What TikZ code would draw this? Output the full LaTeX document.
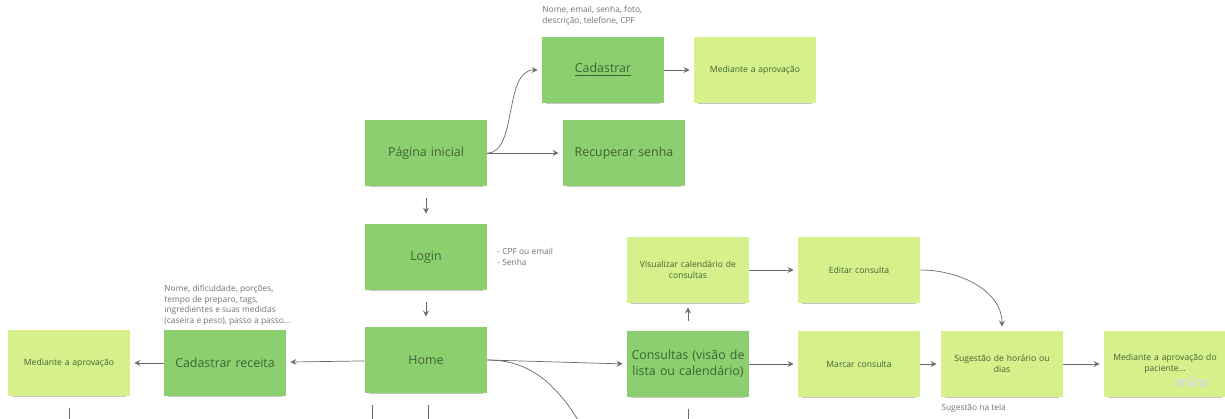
\documentclass[tikz,border=0pt]{standalone}
\usepackage{fontspec}
\setmainfont{Open Sans}
\usepackage{xcolor}
\usetikzlibrary{arrows,positioning,calc,shadows}
\definecolor{notegreen}{RGB}{140,207,110}
\definecolor{notelime}{RGB}{214,240,140}
\definecolor{notetext}{RGB}{62,100,50}
\definecolor{linegray}{RGB}{105,105,105}

\begin{document}
\begin{tikzpicture}[x=0.5pt,y=-0.5pt,
    sticky/.style={minimum width=61pt,minimum height=33pt,inner sep=2pt,text width=57pt,align=center,text=notetext,
      drop shadow={shadow xshift=0pt,shadow yshift=-1.8pt,shadow scale=0.93,opacity=0.45}},
    main/.style={sticky,fill=notegreen,font=\fontsize{6.2}{7.8}\selectfont},
    task/.style={sticky,fill=notelime,font=\fontsize{4.3}{5.6}\selectfont},
    memo/.style={text=black!55,align=left,inner sep=0pt,font=\fontsize{4.2}{5.3}\selectfont},
    wire/.style={draw=linegray,line width=0.35pt},
    link/.style={wire,->,>=stealth,shorten >=2pt}]
    \useasboundingbox (0,0) rectangle (1225,418);
    % sticky notes
    \node[main] (pagina) at (426,153) {Página inicial};
    \node[main] (recuperar) at (624,153) {Recuperar senha};
    \node[main] (cadastrar) at (603,70) {\underline{Cadastrar}};
    \node[task] (aprovcad) at (755,70) {Mediante a aprovação};
    \node[main] (login) at (426,257) {Login};
    \node[main] (home) at (426,360) {Home};
    \node[main] (receita) at (225,363) {Cadastrar receita};
    \node[task] (aprovrec) at (69,363) {Mediante a aprovação};
    \node[task] (visualizar) at (688,270) {Visualizar calendário de\\consultas};
    \node[task] (editar) at (859,270) {Editar consulta};
    \node[main] (consultas) at (688,364) {Consultas (visão de\\lista ou calendário)};
    \node[task] (marcar) at (859,364) {Marcar consulta};
    \node[task] (sugestao) at (1002,364) {Sugestão de horário ou\\dias};
    \node[task] (aprovpac) at (1165,364) {Mediante a aprovação do\\paciente...};
    % notes
    \node[memo,anchor=north west] (dadoscad) at (542,6) {Nome, email, senha, foto,\\descrição, telefone, CPF};
    \node[memo,anchor=west] (dadoslogin) at (497,257) {- CPF ou email\\- Senha};
    \node[memo,anchor=south west] (dadosrec) at (164,326) {Nome, dificuldade, porções,\\tempo de preparo, tags,\\ingredientes e suas medidas\\(caseira e peso), passo a passo...};
    \node[memo,anchor=north west] (dadossug) at (941,404) {Sugestão na tela};
    \node[text=black!15,font=\fontsize{7}{8}\selectfont\bfseries] (marca) at (1192,382) {miro};
    % connectors
    \coordinate (baixo) at (0,420);
    \coordinate (fora) at (578,420);
    \draw[link] (pagina.east) .. controls +(30,0) and +(-38,0) .. (cadastrar.west);
    \draw[link] (pagina) -- (recuperar);
    \draw[link] (cadastrar) -- (aprovcad);
    \draw[link,shorten <=6pt,shorten >=5pt] (pagina) -- (login);
    \draw[link,shorten <=6pt,shorten >=5pt] (login) -- (home);
    \draw[link] (home) -- (receita);
    \draw[link] (receita) -- (aprovrec);
    \draw[link] (home.east) -- (consultas.west);
    \draw[wire] (home.east) to[out=0,in=122] (fora);
    \draw[link,shorten <=5pt] (consultas) -- (visualizar);
    \draw[link] (visualizar) -- (editar);
    \draw[link] (consultas) -- (marcar);
    \draw[link] (marcar) -- (sugestao);
    \draw[link] (sugestao) -- (aprovpac);
    \draw[link] (editar.east) to[out=0,in=90] (sugestao.north);
    \draw[wire,shorten <=6pt] (aprovrec.south) -- (aprovrec.south |- baixo);
    \draw[wire,shorten <=6pt] ($(home.south west)+(8,0)$) -- ($(home.south west |- baixo)+(8,0)$);
    \draw[wire,shorten <=6pt] ($(home.south)+(2,0)$) -- ($(home.south |- baixo)+(2,0)$);
    \draw[wire,shorten <=6pt] (consultas.south) -- (consultas.south |- baixo);
\end{tikzpicture}
\end{document}
